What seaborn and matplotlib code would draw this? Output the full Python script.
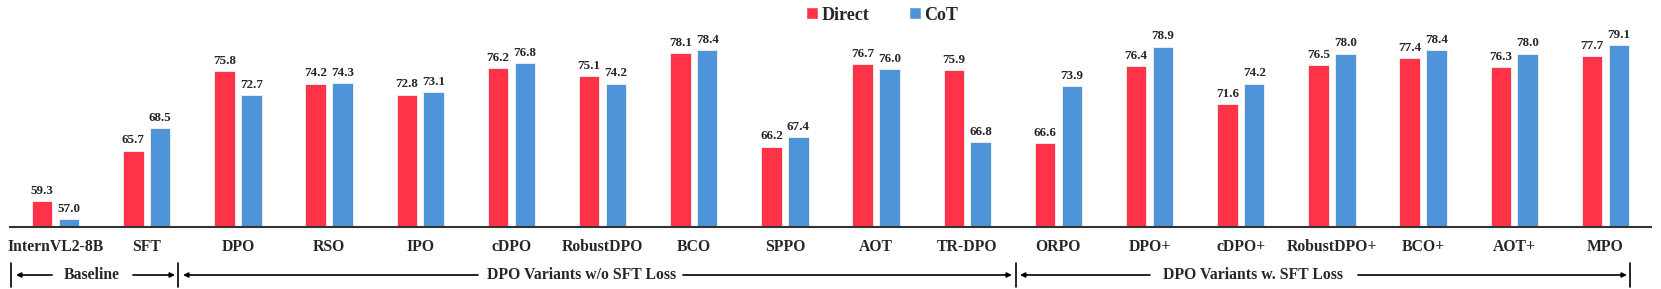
import matplotlib.pyplot as plt
import seaborn as sns
import pandas as pd
from matplotlib.patches import Patch
from matplotlib.transforms import blended_transform_factory

# Methods and scores (Direct vs CoT)
methods = ['InternVL2-8B', 'SFT', 'DPO', 'RSO', 'IPO', 'cDPO', 'RobustDPO', 'BCO', 'SPPO',
           'AOT', 'TR-DPO', 'ORPO', 'DPO+', 'cDPO+', 'RobustDPO+', 'BCO+', 'AOT+', 'MPO']
direct = [59.3, 65.7, 75.8, 74.2, 72.8, 76.2, 75.1, 78.1, 66.2,
          76.7, 75.9, 66.6, 76.4, 71.6, 76.5, 77.4, 76.3, 77.7]
cot = [57.0, 68.5, 72.7, 74.3, 73.1, 76.8, 74.2, 78.4, 67.4,
       76.0, 66.8, 73.9, 78.9, 74.2, 78.0, 78.4, 78.0, 79.1]
settings = ['Direct', 'CoT']
colors = {'Direct': '#FF3348', 'CoT': '#4F94D9'}

df = pd.DataFrame({
    'method': methods * 2,
    'score': direct + cot,
    'setting': ['Direct'] * len(methods) + ['CoT'] * len(methods),
})

sns.set_style('white')
plt.rcParams['font.family'] = ['Liberation Serif', 'DejaVu Serif']
plt.rcParams['font.weight'] = 'bold'

fig = plt.figure(figsize=(16.61, 2.89), dpi=100)
ax = fig.add_axes([10 / 1661, 62 / 289, 1641 / 1661, 227 / 289])

sns.barplot(data=df, x='method', y='score', hue='setting', order=methods,
            hue_order=settings, palette=colors, saturation=1, width=0.59, gap=0.24,
            edgecolor='#f4f4f4', linewidth=0.6, legend=False, ax=ax)

for c in ax.containers:
    ax.bar_label(c, fmt='%.1f', padding=3, fontsize=9.4, fontweight='bold')

ax.set_ylim(56, 84.8)
ax.set_xlim(-0.5, 17.5)
ax.set_xlabel('')
ax.set_ylabel('')
ax.set_yticks([])
ax.tick_params(axis='x', length=0, pad=8.5, labelsize=11.3)
for lbl in ax.get_xticklabels():
    lbl.set_fontweight('bold')
for s in ['top', 'right', 'left']:
    ax.spines[s].set_visible(False)
ax.spines['bottom'].set_color('#333333')
ax.spines['bottom'].set_linewidth(1.5)

# Group brackets below the tick labels
trans = blended_transform_factory(ax.transData, fig.transFigure)
y_row = 14 / 289
y_lo, y_hi = 2 / 289, 26 / 289
for xv in [-0.489, 1.343, 10.534, 17.27]:
    ax.plot([xv, xv], [y_lo, y_hi], color='black', lw=1.2, transform=trans, clip_on=False)

arrows = [(-0.039, -0.434), (0.849, 1.310),
          (4.633, 1.398), (6.882, 10.49),
          (12.004, 10.578), (14.286, 17.236)]
for x0, x1 in arrows:
    ax.annotate('', xy=(x1, y_row), xytext=(x0, y_row), xycoords=trans, textcoords=trans,
                arrowprops=dict(arrowstyle='-|>', color='black', lw=1.2,
                                mutation_scale=7, shrinkA=0, shrinkB=0),
                annotation_clip=False)

groups = [('Baseline', 0.399), ('DPO Variants w/o SFT Loss', 5.774), ('DPO Variants w. SFT Loss', 13.134)]
for name, xc in groups:
    ax.text(xc, y_row, name, transform=trans, ha='center', va='center',
            fontsize=11.3, fontweight='bold')

handles = [Patch(facecolor=colors[s], label=s) for s in settings]
fig.legend(handles=handles, loc='center', bbox_to_anchor=(0.531, 0.948), ncol=2,
           frameon=False, handlelength=0.65, handleheight=0.65,
           handletextpad=0.2, columnspacing=2.2, prop={'weight': 'bold', 'size': 13})

plt.savefig('out.png', dpi=100)
plt.close()
